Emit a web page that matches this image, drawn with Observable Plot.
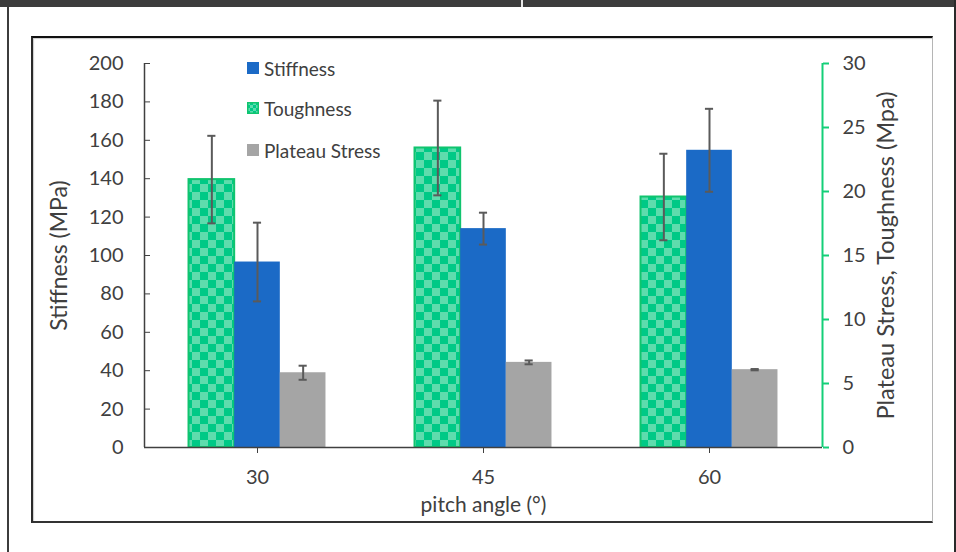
<!DOCTYPE html>
<html>
<head>
<meta charset="utf-8">
<script src="https://cdn.jsdelivr.net/npm/d3@7"></script>
<script src="https://cdn.jsdelivr.net/npm/@observablehq/plot@0.6"></script>
<style>
  html, body { margin: 0; padding: 0; background: #fff; }
  #page { position: relative; width: 956px; height: 552px; overflow: hidden; background: #fff; font-family: Lato, "Noto Sans", sans-serif; }
  .deco { position: absolute; box-sizing: border-box; }
  #chart { position: absolute; left: 0; top: 0; }
  #legend { position: absolute; left: 247px; top: 0; font-family: Lato, sans-serif; font-size: 19px; color: #404040; }
  .item { position: absolute; left: 0; display: flex; align-items: center; white-space: nowrap; height: 20px; }
  .sw { width: 12px; height: 12px; margin-right: 5px; box-sizing: border-box; }
</style>
</head>
<body>
<svg width="0" height="0" style="position:absolute">
  <defs>
    <pattern id="chk" patternUnits="userSpaceOnUse" width="16" height="16">
      <rect width="16" height="16" fill="#00c986"/>
      <rect width="8" height="8" fill="#5edcad"/>
      <rect x="8" y="8" width="8" height="8" fill="#5edcad"/>
    </pattern>
    <pattern id="chk2" patternUnits="userSpaceOnUse" width="6" height="6">
      <rect width="6" height="6" fill="#00c986"/>
      <rect width="3" height="3" fill="#5edcad"/>
      <rect x="3" y="3" width="3" height="3" fill="#5edcad"/>
    </pattern>
  </defs>
</svg>
<div id="page">
  <div class="deco" style="left:0;top:0;width:956px;height:7px;background:#3c3c3c"></div>
  <div class="deco" style="left:521px;top:0;width:2px;height:7px;background:#e8e8e8"></div>
  <div class="deco" style="left:7px;top:7px;width:2px;height:545px;background:#3c3c3c"></div>
  <div class="deco" style="left:954px;top:0;width:2px;height:552px;background:#2a2a2a"></div>
  <div class="deco" style="left:31px;top:36px;width:902px;height:487px;border-top:2px solid #111;border-left:2px solid #2a2a2a;border-bottom:2px solid #333;border-right:1px solid #b5b5b5;box-shadow:1px 1px 1px #ccc inset"></div>
  <div id="chart"></div>
  <div id="legend">
    <div class="item" style="top:58px"><div class="sw" style="background:#1b6ac6"></div><span>Stiffness</span></div>
    <div class="item" style="top:98px"><svg class="sw" width="12" height="12" viewBox="0 0 12 12"><rect x="0.75" y="0.75" width="10.5" height="10.5" fill="url(#chk2)" stroke="#10c46e" stroke-width="1.5"/></svg><span>Toughness</span></div>
    <div class="item" style="top:140px"><div class="sw" style="background:#a5a5a5"></div><span>Plateau Stress</span></div>
  </div>
</div>
<script>
// ---- data ----
const angles = ["30", "45", "60"];
const stiffness = [96.6, 114.0, 154.8];        // MPa, left axis
const stiffnessErr = [20.5, 8.3, 21.6];
const toughness = [20.93, 23.40, 19.57];       // MPa, right axis
const toughnessErr = [3.42, 3.70, 3.38];
const plateau = [5.84, 6.65, 6.08];            // MPa, right axis
const plateauErr = [0.55, 0.15, 0.05];
const leftTicks = [0, 20, 40, 60, 80, 100, 120, 140, 160, 180, 200];
const rightTicks = [0, 5, 10, 15, 20, 25, 30];
const series = ["Toughness", "Stiffness", "Plateau Stress"];

// ---- scale helpers ----
const leftMax = 200, rightMax = 30;
const toLeft = v => v * leftMax / rightMax;     // right-axis units -> shared y units
const barW = 0.202;                             // bar width as a fraction of one category
const capW = 0.018;

const colors = {"Toughness": "url(#chk)", "Stiffness": "#1b6ac6", "Plateau Stress": "#a5a5a5"};
const rows = [];
angles.forEach((a, i) => {
  const vals = [toLeft(toughness[i]), stiffness[i], toLeft(plateau[i])];
  const errs = [toLeft(toughnessErr[i]), stiffnessErr[i], toLeft(plateauErr[i])];
  series.forEach((s, k) => {
    const xc = i + 0.5 + (k - 1) * barW;
    rows.push({angle: a, series: s, xc, x1: xc - barW / 2, x2: xc + barW / 2,
               y: vals[k], lo: vals[k] - errs[k], hi: vals[k] + errs[k]});
  });
});
const caps = rows.flatMap(d => [{xc: d.xc, y: d.lo}, {xc: d.xc, y: d.hi}]);

const textColor = "#404040";
const green = "#14cf78";

const chart = Plot.plot({
  width: 956,
  height: 552,
  marginLeft: 144,
  marginRight: 134,
  marginTop: 63,
  marginBottom: 105,
  style: {fontFamily: "Lato, 'Noto Sans', sans-serif", fontSize: "20px", color: textColor, background: "transparent"},
  x: {domain: [0, 3]},
  y: {domain: [0, leftMax]},
  marks: [
    Plot.rect(rows.filter(d => d.series === "Toughness"), {x1: "x1", x2: "x2", y1: 0, y2: "y", fill: colors["Toughness"], stroke: "#10c46e", strokeWidth: 2, inset: 0}),
    Plot.rect(rows.filter(d => d.series !== "Toughness"), {x1: "x1", x2: "x2", y1: 0, y2: "y", fill: d => colors[d.series], inset: 0}),
    Plot.ruleX(rows, {x: "xc", y1: "lo", y2: "hi", stroke: "#5a5a5a", strokeWidth: 2}),
    Plot.ruleY(caps, {y: "y", x1: d => d.xc - capW, x2: d => d.xc + capW, stroke: "#5a5a5a", strokeWidth: 2}),
    // axis lines
    Plot.ruleY([0], {stroke: "#404040", strokeWidth: 1.5}),
    Plot.ruleX([0], {stroke: "#404040", strokeWidth: 1.5}),
    Plot.ruleX([3], {stroke: green, strokeWidth: 2}),
    // left axis: labels, inward ticks, title
    Plot.axisY(leftTicks, {anchor: "left", tickSize: 0, tickPadding: 21, fill: textColor, label: null}),
    Plot.axisY(leftTicks, {anchor: "left", tickSize: 6, dx: 6, stroke: "#404040", fill: "none", label: null}),
    Plot.axisY([], {anchor: "left", tickSize: 0, fill: textColor, label: "Stiffness (MPa)", labelAnchor: "center", labelOffset: 94, labelArrow: "none", fontSize: 23}),
    // right axis
    Plot.axisY(rightTicks.map(toLeft), {anchor: "right", tickSize: 6, tickPadding: 14, stroke: green, strokeWidth: 2, fill: textColor,
      tickFormat: d => String(Math.round(d * rightMax / leftMax)), label: null}),
    Plot.axisY([], {anchor: "right", tickSize: 0, fill: textColor, label: "Plateau Stress, Toughness (Mpa)", labelAnchor: "center", labelOffset: 71, labelArrow: "none", fontSize: 23.5}),
    // x axis
    Plot.axisX(angles.map((a, i) => i + 0.5), {anchor: "bottom", tickSize: 6, tickPadding: 16, stroke: "#404040", fill: textColor,
      tickFormat: d => angles[Math.floor(d)], label: null}),
    Plot.axisX([], {anchor: "bottom", tickSize: 0, fill: textColor, label: "pitch angle (°)", labelAnchor: "center", labelOffset: 64, labelArrow: "none", fontSize: 21})
  ]
});
document.getElementById("chart").appendChild(chart);
</script>
</body>
</html>
